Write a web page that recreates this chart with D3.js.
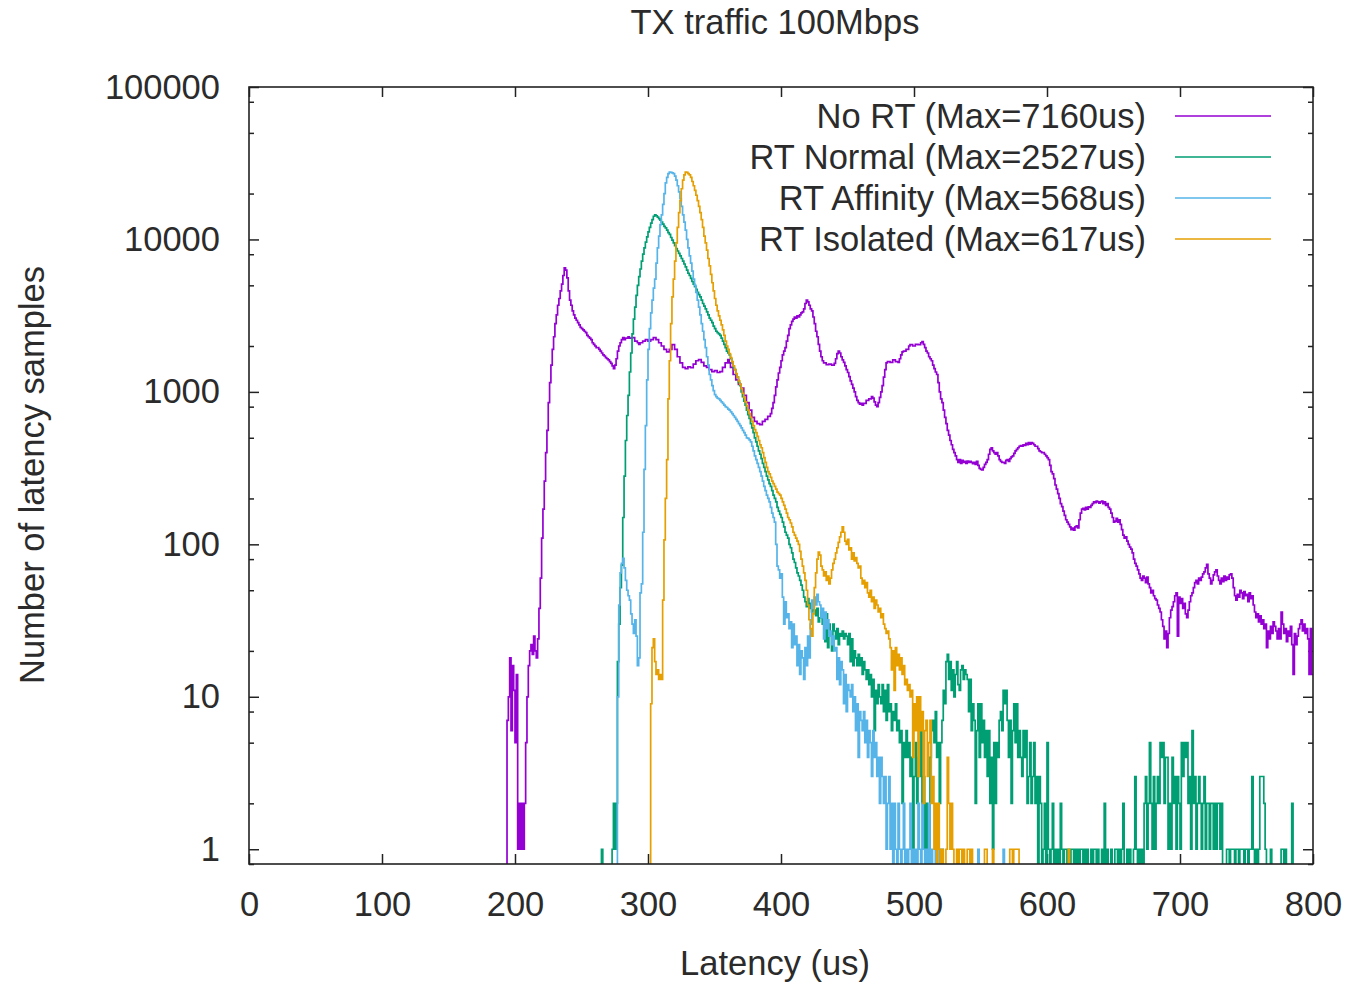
<!DOCTYPE html>
<html><head><meta charset="utf-8">
<script src="https://cdn.jsdelivr.net/npm/d3@7"></script>
<style>
body{margin:0;background:#fff;}
svg text{font-family:"Liberation Sans",Arial,sans-serif;fill:#2b2b2b;}
</style></head>
<body><svg id="c" width="1350" height="982"></svg>
<script>
const title = "TX traffic 100Mbps";
const xLabel = "Latency (us)";
const yLabel = "Number of latency samples";
const xTicks = [0,100,200,300,400,500,600,700,800];
const yTicks = [1,10,100,1000,10000,100000];
const yMinorTicks = [0.8,2,5,8,20,50,80,200,500,800,2000,5000,8000,20000,50000,80000];
const seriesNames = ["No RT (Max=7160us)","RT Normal (Max=2527us)","RT Affinity (Max=568us)","RT Isolated (Max=617us)"];
const seriesColors = ["#9400d3","#009e73","#56b4e9","#e69f00"];

// [latency bin (us), number of samples]
const noRT = [[193,0],[194,7],[195,10],[196,18],[197,6],[198,16],[199,11],[200,5],[201,14],[202,1],[203,2],[204,1],[205,2],[206,1],[207,2],[208,5],[209,10],[210,16],[211,20],[212,22],[213,19],[214,25],[215,20],[216,18],[217,24],[218,38],[219,60],[220,110],[221,170],[222,260],[223,400],[224,560],[225,850],[226,1150],[227,1500],[228,1900],[229,2300],[230,2800],[231,3200],[232,3700],[233,4100],[234,4600],[235,5100],[236,5800],[237,6500],[238,6300],[239,5600],[240,4600],[241,4000],[242,3700],[243,3400],[244,3200],[245,3050],[246,2950],[247,2850],[248,2750],[249,2650],[250,2600],[251,2550],[252,2500],[253,2450],[254,2350],[255,2300],[256,2250],[257,2200],[258,2100],[259,2050],[260,2000],[261,1950],[263,1900],[264,1850],[265,1800],[266,1750],[267,1720],[268,1680],[269,1650],[270,1620],[271,1580],[272,1540],[273,1480],[274,1420],[275,1500],[276,1650],[277,1850],[278,2000],[279,2100],[280,2200],[281,2270],[282,2200],[283,2250],[285,2300],[286,2250],[288,2270],[290,2150],[292,2100],[293,2050],[294,2100],[296,2150],[298,2200],[300,2150],[302,2200],[304,2270],[306,2200],[308,2100],[310,2000],[312,1900],[314,1830],[316,1900],[318,2040],[320,1900],[322,1700],[324,1550],[326,1450],[328,1420],[330,1460],[332,1440],[334,1520],[336,1600],[338,1630],[340,1560],[342,1480],[344,1450],[346,1400],[348,1360],[350,1380],[352,1340],[354,1360],[356,1450],[358,1550],[360,1630],[361,1550],[362,1450],[364,1300],[366,1200],[368,1120],[370,1060],[372,950],[374,850],[376,760],[378,680],[380,640],[382,620],[384,610],[386,640],[388,660],[390,690],[392,720],[393,780],[394,850],[395,950],[396,1080],[397,1200],[398,1330],[399,1450],[400,1600],[401,1750],[402,1850],[403,1950],[404,2150],[405,2350],[406,2600],[407,2750],[408,2900],[409,3000],[410,3100],[411,3050],[412,3150],[413,3100],[414,3200],[415,3300],[416,3350],[417,3500],[418,3800],[419,4000],[420,3900],[421,3700],[422,3500],[423,3400],[424,3100],[425,2800],[426,2500],[427,2300],[428,2050],[429,1850],[430,1700],[431,1600],[432,1550],[434,1510],[436,1520],[438,1500],[440,1540],[441,1650],[442,1780],[443,1850],[444,1800],[445,1700],[446,1620],[447,1560],[448,1480],[449,1400],[450,1340],[451,1260],[452,1180],[453,1120],[454,1060],[455,1000],[456,930],[457,880],[458,850],[459,830],[460,840],[461,820],[462,840],[464,880],[466,900],[468,930],[469,910],[470,860],[471,820],[472,800],[473,850],[474,920],[475,1000],[476,1100],[477,1250],[478,1400],[479,1550],[480,1580],[482,1560],[484,1620],[486,1580],[488,1560],[489,1650],[490,1750],[491,1830],[492,1850],[494,1900],[496,2000],[497,2040],[499,2000],[501,2050],[503,2040],[505,2100],[506,2140],[507,2050],[508,1950],[509,1850],[510,1800],[511,1700],[512,1650],[513,1600],[514,1500],[515,1420],[516,1350],[517,1300],[518,1150],[519,1000],[520,900],[521,850],[522,760],[523,680],[524,620],[525,560],[526,520],[527,480],[528,450],[529,420],[530,400],[531,380],[532,360],[533,345],[534,360],[535,340],[536,355],[537,345],[538,350],[539,340],[540,352],[541,345],[542,350],[543,345],[544,338],[545,345],[546,335],[547,350],[548,330],[549,315],[550,310],[551,308],[552,320],[553,335],[554,345],[555,360],[556,390],[557,420],[558,430],[559,410],[560,400],[561,390],[562,400],[563,380],[564,360],[565,350],[566,345],[567,345],[568,340],[569,355],[570,360],[571,350],[572,365],[573,375],[574,380],[575,395],[576,410],[577,420],[578,430],[579,440],[580,445],[581,440],[582,450],[583,445],[584,460],[585,450],[586,465],[587,455],[588,465],[589,460],[590,450],[591,440],[592,440],[593,425],[594,410],[595,405],[596,400],[597,400],[598,390],[599,380],[600,370],[601,360],[602,330],[603,300],[604,290],[605,270],[606,245],[607,230],[608,215],[609,200],[610,185],[611,177],[612,165],[613,155],[614,145],[615,140],[616,135],[617,130],[618,125],[619,128],[620,124],[621,130],[622,132],[623,128],[624,145],[625,160],[626,170],[627,172],[628,168],[629,175],[630,170],[631,176],[632,175],[633,180],[634,185],[635,190],[636,188],[637,192],[638,190],[639,186],[640,190],[641,192],[642,185],[643,190],[644,180],[645,185],[646,175],[647,170],[648,160],[649,150],[650,140],[651,142],[652,148],[653,140],[654,145],[655,135],[656,125],[657,115],[658,110],[659,112],[660,105],[661,100],[662,96],[663,93],[664,88],[665,80],[666,75],[667,72],[668,68],[669,64],[670,60],[671,58],[672,62],[673,60],[674,56],[675,61],[676,55],[677,52],[678,48],[679,50],[680,46],[681,44],[682,43],[683,40],[684,38],[685,36],[686,32],[687,29],[688,24],[689,27],[690,21],[691,26],[692,33],[693,37],[694,39],[695,42],[696,46],[697,48],[698,25],[699,45],[700,41],[701,44],[702,38],[703,41],[704,35],[705,33],[706,37],[707,42],[708,46],[709,48],[710,52],[711,56],[712,58],[713,55],[714,60],[715,58],[716,61],[717,64],[718,66],[719,70],[720,74],[721,64],[722,60],[723,55],[724,58],[725,63],[726,66],[727,68],[728,62],[729,58],[730,55],[731,60],[732,57],[733,62],[734,58],[735,61],[736,59],[737,63],[738,64],[739,60],[740,52],[741,46],[742,43],[743,47],[744,45],[745,50],[746,48],[747,44],[748,49],[749,46],[750,47],[751,42],[752,48],[753,44],[754,46],[755,40],[756,36],[757,33],[758,35],[759,31],[760,34],[761,30],[762,32],[763,28],[764,30],[765,21],[766,27],[767,24],[768,29],[769,26],[770,31],[771,29],[772,27],[773,24],[774,28],[775,24],[776,36],[777,30],[778,26],[779,28],[780,23],[781,27],[782,25],[783,29],[784,22],[785,14],[786,26],[787,22],[788,25],[789,28],[790,30],[791,32],[792,27],[793,30],[794,26],[795,28],[796,24],[797,14],[798,28],[799,14],[800,14]];

const rtNormal = [[264,0],[265,1],[266,0],[273,1],[274,2],[275,1],[276,2],[277,17],[278,30],[279,52],[280,73],[281,150],[282,280],[283,480],[284,700],[285,950],[286,1350],[287,1800],[288,2400],[289,3000],[290,3600],[291,4300],[292,5000],[293,5700],[294,6400],[295,7200],[296,8000],[297,8800],[298,9600],[299,10400],[300,11200],[301,12000],[302,12800],[303,13500],[304,14200],[305,14500],[306,14300],[307,14000],[308,13700],[309,13400],[310,13000],[311,12600],[312,12200],[313,11900],[314,11500],[315,11100],[316,10800],[317,10300],[318,9900],[319,9500],[320,9100],[321,8700],[322,8400],[323,8100],[324,7800],[325,7500],[326,7200],[327,6900],[328,6600],[329,6300],[330,6000],[331,5800],[332,5550],[333,5300],[334,5100],[335,4900],[336,4700],[337,4500],[338,4350],[339,4200],[340,4000],[341,3800],[342,3650],[343,3500],[344,3350],[345,3200],[346,3050],[347,2950],[348,2850],[349,2700],[350,2600],[351,2500],[352,2450],[353,2400],[354,2350],[355,2250],[356,2150],[357,2050],[358,1950],[359,1850],[360,1800],[361,1750],[362,1650],[363,1550],[364,1450],[365,1400],[366,1300],[367,1250],[368,1150],[369,1100],[370,1000],[371,930],[372,870],[373,820],[374,760],[375,710],[376,670],[377,620],[378,580],[379,540],[380,500],[381,470],[382,440],[383,410],[384,390],[385,365],[386,340],[387,320],[388,300],[389,280],[390,265],[391,250],[392,240],[393,225],[394,210],[395,200],[396,190],[397,175],[398,165],[399,157],[400,150],[401,140],[402,130],[403,120],[404,115],[405,110],[406,100],[407,95],[408,88],[409,80],[410,76],[411,70],[412,65],[413,62],[414,58],[415,54],[416,50],[417,45],[418,42],[419,39],[420,44],[421,38],[422,41],[423,36],[424,42],[425,37],[426,34],[427,38],[428,31],[429,33],[430,36],[431,30],[432,34],[433,23],[434,35],[435,21],[436,30],[437,26],[438,20],[439,30],[440,27],[441,24],[442,28],[443,22],[444,26],[445,25],[446,27],[447,24],[448,26],[449,25],[450,22],[451,26],[452,17],[453,24],[454,16],[455,20],[456,18],[457,16],[458,19],[459,16],[460,18],[461,14],[462,17],[463,15],[464,13],[465,15],[466,12],[467,14],[468,10],[469,13],[470,6],[471,11],[472,9],[473,12],[474,10],[475,9],[476,12],[477,8],[478,11],[479,7],[480,12],[481,8],[482,9],[483,6],[484,8],[485,7],[486,9],[487,6],[488,7],[489,5],[490,6],[491,2],[492,5],[493,4],[494,6],[495,4],[496,5],[497,3],[498,4],[499,0],[500,3],[501,5],[502,2],[503,4],[504,3],[505,6],[506,2],[507,3],[508,1],[509,2],[510,0],[511,1],[512,4],[513,6],[514,7],[515,5],[516,8],[517,4],[518,5],[519,2],[520,5],[521,7],[522,11],[523,9],[524,17],[525,19],[526,13],[527,17],[528,11],[529,15],[530,10],[531,14],[532,17],[533,12],[534,11],[535,15],[536,16],[537,13],[538,15],[539,14],[540,13],[541,8],[542,13],[543,6],[544,9],[545,7],[546,2],[547,6],[548,9],[549,4],[550,9],[551,5],[552,7],[553,4],[554,6],[555,3],[556,6],[557,2],[558,4],[559,1],[560,5],[561,2],[562,5],[563,4],[564,7],[565,8],[566,6],[567,11],[568,9],[569,11],[570,7],[571,4],[572,7],[573,2],[574,6],[575,9],[576,5],[577,9],[578,4],[579,6],[580,4],[581,3],[582,6],[583,4],[584,6],[585,2],[586,3],[587,5],[588,2],[589,3],[590,5],[591,2],[592,3],[593,0],[594,3],[595,2],[596,0],[597,1],[598,2],[599,0],[600,5],[601,1],[602,0],[603,1],[604,2],[605,0],[606,1],[607,0],[608,1],[609,0],[610,2],[611,1],[612,0],[613,1],[615,0],[616,1],[617,0],[618,1],[620,0],[621,1],[622,0],[623,1],[624,0],[625,1],[627,0],[628,1],[629,0],[630,1],[631,0],[633,1],[634,0],[635,1],[637,0],[638,1],[639,0],[641,1],[642,0],[643,2],[644,0],[645,1],[646,0],[648,1],[649,0],[651,1],[653,0],[654,1],[655,0],[656,1],[657,2],[658,0],[660,1],[661,0],[662,1],[663,0],[665,1],[666,3],[667,1],[668,0],[669,1],[670,0],[671,1],[672,0],[673,2],[674,3],[675,1],[676,2],[677,5],[678,2],[679,1],[680,3],[681,1],[682,2],[683,3],[684,2],[685,5],[686,4],[687,5],[688,2],[689,4],[690,4],[691,1],[692,2],[693,1],[694,4],[695,2],[696,3],[697,1],[698,3],[699,2],[700,1],[701,5],[702,3],[703,5],[704,4],[705,5],[706,2],[707,3],[708,1],[709,6],[710,2],[711,3],[712,1],[713,2],[714,3],[715,2],[716,1],[717,2],[718,3],[719,1],[720,2],[721,2],[722,1],[723,2],[724,2],[725,1],[726,2],[727,1],[728,2],[730,1],[731,2],[732,0],[735,1],[737,0],[738,1],[741,0],[742,1],[744,0],[745,1],[748,0],[749,1],[751,0],[752,1],[754,3],[755,1],[756,0],[757,1],[758,0],[759,1],[760,3],[763,2],[764,1],[765,0],[768,1],[769,0],[776,1],[778,0],[779,1],[780,0],[784,2],[785,0],[800,0]];

const rtAffinity = [[276,0],[277,10],[278,40],[279,65],[280,75],[281,81],[282,70],[283,58],[284,50],[285,46],[286,43],[287,35],[288,30],[289,26],[290,32],[291,25],[292,16],[293,18],[294,48],[295,55],[296,120],[297,310],[298,600],[299,1200],[300,1900],[301,2600],[302,3300],[303,4000],[304,4800],[305,5500],[306,7000],[307,8800],[308,10500],[309,12500],[310,14500],[311,17000],[312,20000],[313,23500],[314,25500],[315,27000],[316,27700],[317,27500],[318,27300],[319,27000],[320,26000],[321,24500],[322,22500],[323,20500],[324,18500],[325,16500],[326,14500],[327,13000],[328,11500],[329,10000],[330,8800],[331,7800],[332,7000],[333,6200],[334,5500],[335,5000],[336,4500],[337,4000],[338,3600],[339,3200],[340,2800],[341,2500],[342,2200],[343,1950],[344,1700],[345,1500],[346,1300],[347,1200],[348,1100],[349,1020],[350,960],[351,930],[352,910],[353,900],[354,880],[355,860],[356,840],[357,820],[358,800],[359,790],[360,770],[361,760],[362,740],[363,720],[364,700],[365,680],[366,660],[367,640],[368,620],[369,600],[370,580],[371,560],[372,540],[373,520],[374,500],[375,495],[376,485],[377,470],[378,440],[379,410],[380,380],[381,360],[382,340],[383,320],[384,300],[385,280],[386,260],[387,240],[388,225],[389,210],[390,200],[391,190],[392,175],[393,160],[394,150],[395,140],[396,100],[397,72],[398,68],[399,60],[400,64],[401,45],[402,30],[403,42],[404,33],[405,35],[406,28],[407,31],[408,21],[409,30],[410,22],[411,25],[412,16],[413,22],[414,14],[415,20],[416,18],[417,13],[418,21],[419,16],[420,25],[421,18],[422,30],[423,43],[424,38],[425,45],[426,40],[427,47],[428,42],[429,40],[430,33],[431,38],[432,24],[433,36],[434,28],[435,32],[436,25],[437,27],[438,22],[439,25],[440,20],[441,21],[442,13],[443,18],[444,12],[445,17],[446,15],[447,9],[448,14],[449,8],[450,12],[451,11],[452,10],[453,12],[454,8],[455,10],[456,6],[457,9],[458,4],[459,8],[460,7],[461,6],[462,8],[463,5],[464,7],[465,4],[466,6],[467,5],[468,3],[469,6],[470,4],[471,5],[472,3],[473,4],[474,2],[475,4],[476,3],[477,2],[478,3],[479,1],[480,2],[481,3],[482,1],[483,2],[484,0],[485,2],[486,1],[487,0],[488,2],[489,1],[490,0],[491,1],[492,2],[493,0],[494,1],[495,0],[496,1],[497,2],[498,0],[499,1],[500,0],[501,1],[502,0],[503,2],[504,1],[505,0],[506,2],[507,1],[508,0],[509,1],[510,0],[511,2],[512,0],[513,1],[514,0],[516,1],[517,0],[519,1],[520,0],[521,1],[522,0],[548,1],[549,0],[567,1],[568,0]];

const rtIsolated = [[301,0],[302,9],[303,21],[304,24],[305,17],[306,14],[307,15],[308,13],[309,14],[310,13],[311,43],[312,107],[313,200],[314,360],[315,900],[316,1600],[317,2800],[318,4200],[319,5500],[320,7200],[321,9500],[322,12000],[323,15000],[324,18000],[325,21500],[326,24500],[327,26500],[328,27700],[329,27500],[330,27000],[331,26500],[332,25500],[333,24000],[334,22500],[335,21000],[336,19500],[337,18000],[338,16500],[339,15000],[340,13500],[341,12000],[342,10500],[343,9500],[344,8500],[345,7500],[346,6700],[347,5900],[348,5200],[349,4600],[350,4100],[351,3700],[352,3400],[353,3150],[354,2950],[355,2750],[356,2550],[357,2350],[358,2150],[359,2000],[360,1900],[361,1780],[362,1680],[363,1580],[364,1480],[365,1400],[366,1320],[367,1250],[368,1180],[369,1120],[370,1050],[371,980],[372,920],[373,860],[374,810],[375,760],[376,720],[377,680],[378,640],[379,600],[380,566],[381,540],[382,510],[383,480],[384,450],[385,430],[386,400],[387,370],[388,345],[389,320],[390,300],[391,290],[392,275],[393,260],[394,250],[395,240],[396,230],[397,220],[398,215],[399,210],[400,200],[401,190],[402,180],[403,170],[404,160],[405,150],[406,145],[407,138],[408,130],[409,120],[410,115],[411,110],[412,105],[413,100],[414,90],[415,80],[416,72],[417,65],[418,58],[419,50],[420,40],[421,32],[422,28],[423,25],[424,35],[425,52],[426,65],[427,80],[428,89],[429,85],[430,72],[431,68],[432,62],[433,66],[434,58],[435,62],[436,55],[437,60],[438,68],[439,75],[440,80],[441,88],[442,95],[443,103],[444,112],[445,120],[446,130],[447,120],[448,105],[449,100],[450,108],[451,92],[452,95],[453,80],[454,88],[455,78],[456,82],[457,75],[458,70],[459,72],[460,60],[461,55],[462,58],[463,52],[464,56],[465,48],[466,45],[467,50],[468,42],[469,45],[470,38],[471,43],[472,40],[473,36],[474,38],[475,33],[476,35],[477,30],[478,28],[479,26],[480,27],[481,24],[482,21],[483,15],[484,20],[485,11],[486,21],[487,16],[488,19],[489,15],[490,18],[491,14],[492,16],[493,12],[494,13],[495,11],[496,12],[497,10],[498,11],[499,4],[500,9],[501,6],[502,10],[503,3],[504,10],[505,6],[506,8],[507,2],[508,6],[509,7],[510,3],[511,5],[512,7],[513,2],[514,3],[515,1],[516,2],[517,0],[518,2],[519,1],[520,0],[521,1],[522,0],[524,1],[525,4],[526,2],[527,1],[528,2],[529,1],[530,0],[532,1],[533,0],[534,1],[536,0],[537,1],[538,0],[540,1],[542,0],[543,1],[544,0],[553,1],[555,0],[559,1],[560,0],[572,1],[574,0],[575,1],[579,0],[616,1],[617,0]];

const seriesData = [noRT, rtNormal, rtAffinity, rtIsolated];

const svg = d3.select("#c");
const L = 249, R = 1313, T = 87, B = 864;
const x = d3.scaleLinear().domain([0, 800]).range([L, R]);
const y = d3.scaleLog().domain([0.8, 100000]).range([B, T]);
const FS = "34.5px";

svg.append("defs").append("clipPath").attr("id","clip")
  .append("rect").attr("x",L).attr("y",T).attr("width",R-L).attr("height",B-T);

// ticks
function styleAxis(g){ g.select(".domain").remove(); g.selectAll("line").attr("stroke","#222").attr("stroke-width",1.5); g.selectAll("text").style("font-size",FS).attr("fill","#2b2b2b"); }
svg.append("g").attr("transform",`translate(${L},0)`)
  .call(d3.axisLeft(y).tickValues(yTicks).tickFormat(d3.format("d")).tickSize(-10).tickPadding(29)).call(styleAxis);
svg.append("g").attr("transform",`translate(${L},0)`)
  .call(d3.axisLeft(y).tickValues(yMinorTicks).tickFormat("").tickSize(-5)).call(styleAxis);
svg.append("g").attr("transform",`translate(${R},0)`)
  .call(d3.axisRight(y).tickValues(yTicks).tickFormat("").tickSize(-10)).call(styleAxis);
svg.append("g").attr("transform",`translate(${R},0)`)
  .call(d3.axisRight(y).tickValues(yMinorTicks).tickFormat("").tickSize(-5)).call(styleAxis);
svg.append("g").attr("transform",`translate(0,${B})`)
  .call(d3.axisBottom(x).tickValues(xTicks).tickFormat(d3.format("d")).tickSize(-10).tickPadding(28)).call(styleAxis);
svg.append("g").attr("transform",`translate(0,${T})`)
  .call(d3.axisTop(x).tickValues(xTicks).tickFormat("").tickSize(-10)).call(styleAxis);

// series
const line = d3.line().curve(d3.curveStepAfter)
  .x(d => x(d[0]))
  .y(d => d[1] > 0 ? y(d[1]) : B + 20);
const plot = svg.append("g").attr("clip-path","url(#clip)");
seriesData.forEach((s, i) => {
  const pts = s.slice();
  const last = pts[pts.length-1];
  pts.push([Math.min(last[0]+1, 800), last[1]]);
  plot.append("path").datum(pts)
    .attr("fill","none").attr("stroke",seriesColors[i]).attr("stroke-width",1.7)
    .attr("stroke-linejoin","miter").attr("d", line);
});

// frame
svg.append("rect").attr("x",L).attr("y",T).attr("width",R-L).attr("height",B-T)
  .attr("fill","none").attr("stroke","#222").attr("stroke-width",1.6);

// legend
const lg = svg.append("g");
seriesNames.forEach((n, i) => {
  const yy = 116 + i*41;
  lg.append("text").attr("x",1146).attr("y",yy).attr("text-anchor","end")
    .attr("dominant-baseline","central").style("font-size",FS).text(n);
  lg.append("line").attr("x1",1175).attr("x2",1271).attr("y1",yy).attr("y2",yy)
    .attr("stroke",seriesColors[i]).attr("stroke-width",1.7);
});

// labels
svg.append("text").attr("x",775).attr("y",22).attr("text-anchor","middle")
  .attr("dominant-baseline","central").style("font-size",FS).text(title);
svg.append("text").attr("x",775).attr("y",963).attr("text-anchor","middle")
  .attr("dominant-baseline","central").style("font-size",FS).text(xLabel);
svg.append("text").attr("transform","translate(32,475) rotate(-90)").attr("text-anchor","middle")
  .attr("dominant-baseline","central").style("font-size",FS).text(yLabel);
</script></body></html>
